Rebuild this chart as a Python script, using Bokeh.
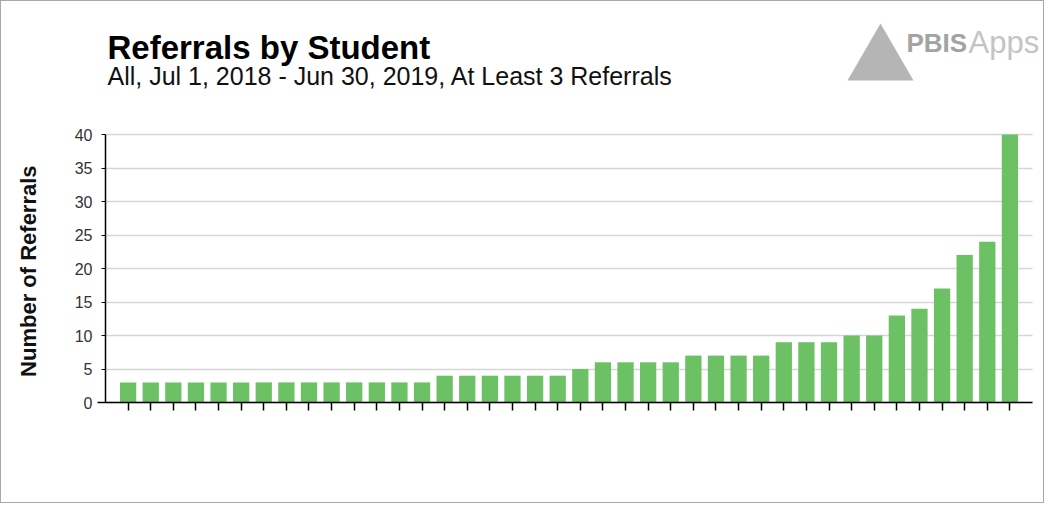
import math
from bokeh.plotting import figure
from bokeh.models import Range1d, FixedTicker, ColumnDataSource
from bokeh.core.properties import value
from bokeh.embed import file_html
from bokeh.resources import INLINE

# ---- data ----
referrals = [3, 3, 3, 3, 3, 3, 3, 3, 3, 3, 3, 3, 3, 3,
             4, 4, 4, 4, 4, 4,
             5,
             6, 6, 6, 6,
             7, 7, 7, 7,
             9, 9, 9,
             10, 10,
             13, 14, 17, 22, 24, 40]
students = list(range(len(referrals)))
y_ticks = [0, 5, 10, 15, 20, 25, 30, 35, 40]

title_text = "Referrals by Student"
subtitle_text = "All, Jul 1, 2018 - Jun 30, 2019, At Least 3 Referrals"
y_label = "Number of Referrals"
logo_bold = "PBIS"
logo_light = "Apps"

FONT = "Liberation Sans"
BAR = "#6cc165"

# ---- layout (canvas pixels) ----
W, H = 1044, 503
AXIS_X, AXIS_Y = 104, 401       # y axis line / x axis line position
PX_PER_Y = 268 / 40.0           # 40 referrals span 268 px
PX_PER_X = 22.61                # one student slot

def dx(px):   # canvas x -> data x
    return -1 + (px - AXIS_X) / PX_PER_X

def dy(py):   # canvas y -> data y
    return (AXIS_Y - py) / PX_PER_Y

source = ColumnDataSource(data=dict(x=students, y=referrals))

p = figure(width=W, height=H, output_backend="svg", toolbar_location=None,
           x_range=Range1d(dx(0), dx(W)), y_range=Range1d(dy(H), dy(0)),
           min_border_left=0, min_border_right=0,
           min_border_top=0, min_border_bottom=0)
p.styles = {"border": "1px solid #a8a8a8"}
p.outline_line_color = None
p.background_fill_color = "white"
p.border_fill_color = "white"

# grid
p.xgrid.grid_line_color = None
yg = p.ygrid[0]
yg.ticker = FixedTicker(ticks=y_ticks)
yg.grid_line_color = "#d6d6d6"
yg.grid_line_width = 1.5
yg.bounds = (y_ticks[0], y_ticks[-1])
if "cross_bounds" in yg.properties():
    yg.cross_bounds = (-1, len(referrals))
else:
    yg.grid_line_color = None
    p.segment(x0=[-1] * len(y_ticks), x1=[len(referrals)] * len(y_ticks),
              y0=y_ticks, y1=y_ticks, line_color="#d6d6d6", line_width=1.5,
              level="underlay")

p.vbar(x="x", top="y", width=0.72, source=source, fill_color=BAR, line_color=None)

# x axis, fixed at zero referrals
xa = p.xaxis[0]
xa.fixed_location = 0
xa.ticker = FixedTicker(ticks=students)
xa.bounds = (dx(96), len(referrals))
xa.major_label_text_color = None
xa.major_tick_in = 0
xa.major_tick_out = 8
xa.minor_tick_line_color = None
xa.axis_line_color = "black"
xa.axis_line_width = 1.5
xa.major_tick_line_color = "black"
xa.major_tick_line_width = 1.5

# y axis, fixed at the left edge of the bars
ya = p.yaxis[0]
ya.fixed_location = -1
ya.ticker = FixedTicker(ticks=y_ticks)
ya.bounds = (y_ticks[0], y_ticks[-1])
ya.major_tick_in = 0
ya.major_tick_out = 4
ya.minor_tick_line_color = None
ya.axis_line_color = "black"
ya.axis_line_width = 1.5
ya.major_tick_line_color = "black"
ya.major_label_text_font = FONT
ya.major_label_text_font_size = "16px"
ya.major_label_text_color = "#333333"
ya.major_label_standoff = 9

# y-axis title
p.text(x=[dx(27)], y=[(y_ticks[0] + y_ticks[-1]) / 2 - 0.4], text=[y_label],
       angle=math.pi / 2, text_font=value(FONT), text_font_size="22px",
       text_font_style="bold", text_color="#111111",
       text_align="center", text_baseline="middle")

# titles
p.text(x=[dx(106)], y=[dy(46)], text=[title_text], text_font=value(FONT),
       text_font_size="33px", text_font_style="bold", text_color="#000000",
       text_baseline="alphabetic", text_align="left")
p.text(x=[dx(106)], y=[dy(74)], text=[subtitle_text], text_font=value(FONT),
       text_font_size="25px", text_color="#111111",
       text_baseline="alphabetic", text_align="left")

# logo (decoration)
p.scatter(x=[dx(879)], y=[dy(60)], marker="triangle", size=66,
          fill_color="#b5b5b5", line_color=None)
p.text(x=[dx(905)], y=[dy(41)], text=[logo_bold], text_font=value(FONT),
       text_font_size="26px", text_font_style="bold", text_color="#a3a3a3",
       text_baseline="alphabetic", text_align="left")
p.text(x=[dx(967)], y=[dy(41)], text=[logo_light], text_font=value(FONT),
       text_font_size="31px", text_color="#c4c4c4",
       text_baseline="alphabetic", text_align="left")

open("out.html", "w").write(file_html(p, INLINE))
